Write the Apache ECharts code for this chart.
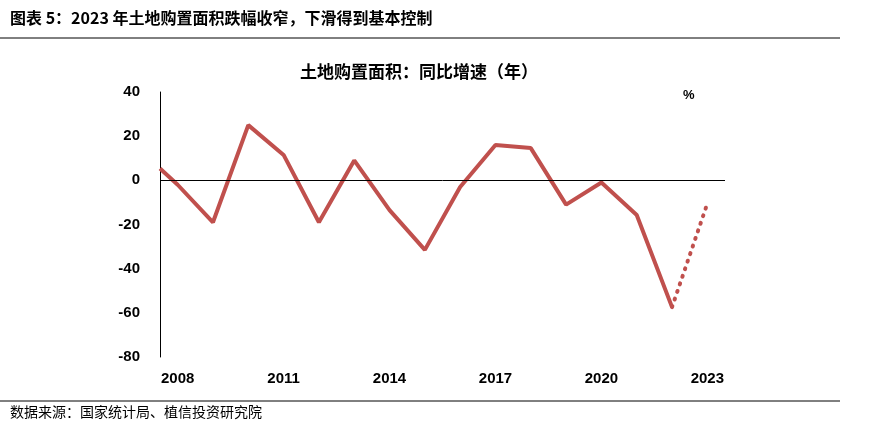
<!DOCTYPE html><html><head><meta charset="utf-8"><script src="https://cdn.jsdelivr.net/npm/echarts@6/dist/echarts.min.js"></script>
<style>body{margin:0;background:#fff}#c{width:873px;height:438px}</style></head><body><div id="c"></div><script>
const xPos=[2007.5,2008,2009,2010,2011,2012,2013,2014,2015,2016,2017,2018,2019,2020,2021,2022];
const values=[5.4,-2,-19,25,11.5,-19,9,-13.5,-31.5,-3,16,14.6,-11,-1,-15.7,-57.4];
const dotX=[2022,2023];
const dotValues=[-57.4,-10.5];
const tickPos=[2008,2011,2014,2017,2020,2023];
const tickLabels=['2008','2011','2014','2017','2020','2023'];
const c=echarts.init(document.getElementById('c'));
const col='#C0504D';
c.setOption({
animation:false,
title:{text:'土地购置面积：同比增速（年）',left:414,top:58,textAlign:'center',textStyle:{fontSize:17,fontWeight:'bold',color:'#000',fontFamily:'Noto Sans CJK SC'}},
graphic:[
{type:'text',left:10,top:10,style:{text:'图表 5：2023 年土地购置面积跌幅收窄，下滑得到基本控制',font:'bold 16px "Noto Sans CJK SC"',fill:'#000'}},
{type:'line',shape:{x1:0,y1:38,x2:840,y2:38},style:{stroke:'#000',lineWidth:1}},
{type:'line',shape:{x1:0,y1:401,x2:840,y2:401},style:{stroke:'#000',lineWidth:1}},
{type:'text',left:10,top:405,style:{text:'数据来源：国家统计局、植信投资研究院',font:'14px "Noto Sans CJK SC"',fill:'#000'}},
{type:'text',left:683,top:89,style:{text:'%',font:'bold 13px Arial',fill:'#000'}}
],
grid:{left:160,right:148,top:92,bottom:81},
xAxis:{type:'value',min:2007.5,max:2023.5,splitLine:{show:false},axisLine:{show:false,onZero:false},axisTick:{show:false},
 axisLabel:{customValues:tickPos,formatter:v=>tickLabels[tickPos.indexOf(v)]??'',fontSize:15,fontWeight:'bold',color:'#000',margin:14,fontFamily:'Liberation Sans'}},
yAxis:{type:'value',min:-80,max:40,interval:20,splitLine:{show:false},axisLine:{show:true,lineStyle:{color:'#000'}},axisTick:{show:false},
 axisLabel:{fontSize:15,fontWeight:'bold',color:'#000',margin:20,fontFamily:'Liberation Sans'}},
series:[
{type:'line',data:xPos.map((x,i)=>[x,values[i]]),symbol:'none',lineStyle:{color:col,width:4},
 markLine:{silent:true,symbol:'none',label:{show:false},lineStyle:{color:'#000',width:1,type:'solid'},data:[{yAxis:0}]}},
{type:'line',data:dotX.map((x,i)=>[x,dotValues[i]]),symbol:'none',lineStyle:{color:col,width:4,type:[1,7],cap:'round'}}
]});
</script></body></html>
